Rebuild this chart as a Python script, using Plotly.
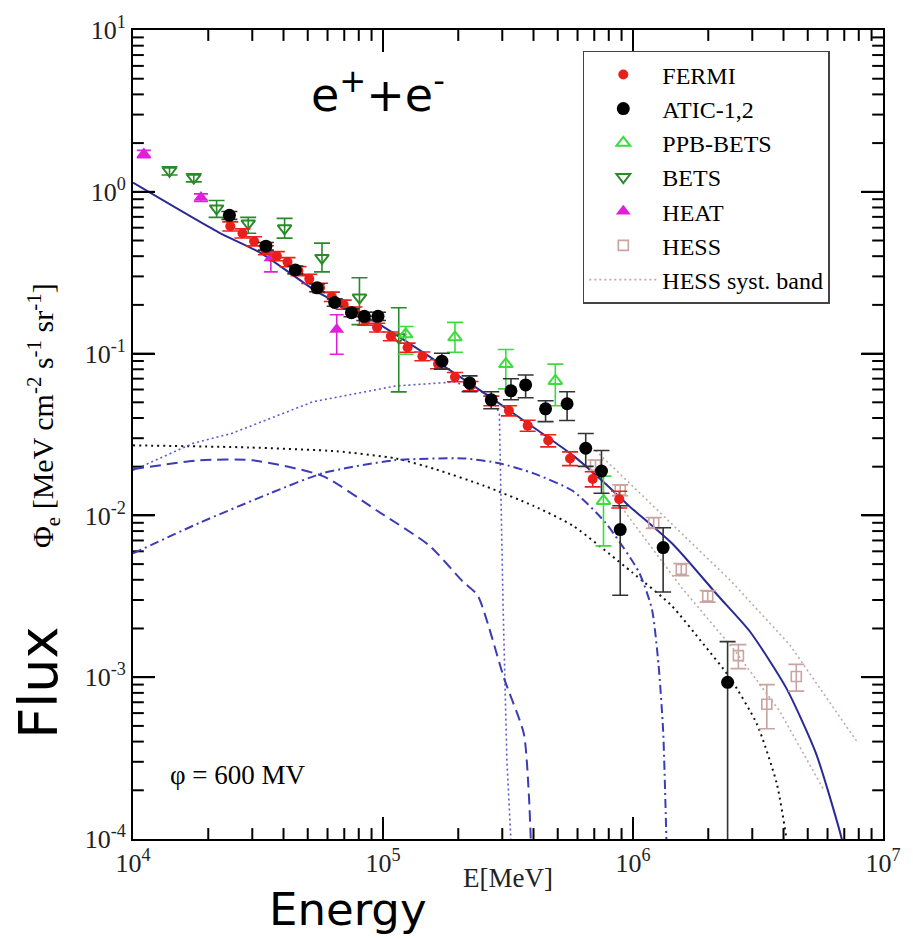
import plotly.graph_objects as go

# ---------------- data ----------------
fermi_E = [2.45e4, 2.74e4, 3.05e4, 3.40e4, 3.76e4, 4.15e4, 4.59e4, 5.07e4, 5.60e4, 6.24e4,
           6.96e4, 7.69e4, 8.49e4, 9.47e4, 1.075e5, 1.254e5, 1.437e5, 1.66e5, 1.94e5, 2.24e5,
           2.71e5, 3.19e5, 3.79e5, 4.58e5, 5.60e5, 6.90e5, 8.81e5]
fermi_F = [0.612, 0.554, 0.495, 0.436, 0.401, 0.368, 0.324, 0.290, 0.255, 0.225,
           0.201, 0.182, 0.160, 0.145, 0.128, 0.109, 0.0964, 0.0861, 0.0717, 0.0631,
           0.0511, 0.0444, 0.0359, 0.0290, 0.0225, 0.0168, 0.0126]
fermi_err = [0.04, 0.036, 0.032, 0.028, 0.026, 0.024, 0.021, 0.019, 0.017, 0.015,
             0.013, 0.012, 0.010, 0.009, 0.008, 0.007, 0.006, 0.0055, 0.0047, 0.0042,
             0.0035, 0.0032, 0.0028, 0.0025, 0.0022, 0.0018, 0.0015]

atic_E = [2.43e4, 3.40e4, 4.46e4, 5.45e4, 6.41e4, 7.48e4, 8.42e4, 9.55e4, 1.72e5, 2.22e5,
          2.71e5, 3.25e5, 3.72e5, 4.47e5, 5.45e5, 6.47e5, 7.48e5, 8.89e5, 1.32e6, 2.39e6]
atic_F = [0.715, 0.461, 0.329, 0.255, 0.207, 0.179, 0.170, 0.170, 0.0898, 0.0659,
          0.0518, 0.0589, 0.0640, 0.0456, 0.0490, 0.0260, 0.0188, 0.00817, 0.00633, 0.00093]
atic_plus = [0.04, 0.025, 0.018, 0.014, 0.011, 0.010, 0.010, 0.010, 0.0107, 0.0069,
             0.0063, 0.011, 0.0098, 0.0055, 0.0091, 0.0061, 0.0064, 0.00329, 0.00206, 0.00073]
atic_minus = [0.04, 0.025, 0.018, 0.014, 0.011, 0.010, 0.010, 0.010, 0.0096, 0.0078,
              0.0062, 0.007, 0.0107, 0.0076, 0.0104, 0.0059, 0.0051, 0.00496, 0.00297, 0.00088]

ppb_E = [1.232e5, 1.94e5, 3.10e5, 4.89e5, 7.62e5]
ppb_F = [0.1315, 0.126, 0.0861, 0.0678, 0.01228]
ppb_plus = [0.0155, 0.030, 0.020, 0.0183, 0.0052]
ppb_minus = [0.0324, 0.024, 0.0256, 0.0202, 0.0058]

bets_E = [1.40e4, 1.75e4, 2.16e4, 2.89e4, 4.04e4, 5.70e4, 8.05e4, 1.156e5]
bets_F = [1.349, 1.222, 0.789, 0.638, 0.595, 0.390, 0.222, 0.126]
bets_plus = [0.08, 0.07, 0.094, 0.057, 0.09, 0.092, 0.072, 0.066]
bets_minus = [0.08, 0.07, 0.094, 0.084, 0.078, 0.070, 0.071, 0.068]

heat_E = [1.105e4, 1.87e4, 3.56e4, 6.53e4]
heat_F = [1.714, 0.921, 0.390, 0.141]
heat_plus = [0.09, 0.05, 0.028, 0.033]
heat_minus = [0.09, 0.05, 0.07, 0.042]

hess_E = [7.08e5, 8.89e5, 1.21e6, 1.56e6, 1.99e6, 2.64e6, 3.43e6, 4.50e6]
hess_F = [0.0204, 0.01435, 0.00901, 0.00464, 0.00317, 0.00136, 0.00068, 0.00101]
hess_plus = [0.0016, 0.0011, 0.0007, 0.0004, 0.00026, 0.00023, 0.00022, 0.00019]
hess_minus = [0.0016, 0.0011, 0.0007, 0.0004, 0.00026, 0.00023, 0.0002, 0.00019]

band_hi_E = [7.08e5, 1.42e6, 2.45e6, 4.23e6, 7.83e6]
band_hi_F = [0.0252, 0.00901, 0.00397, 0.00159, 0.000404]
band_lo_E = [8.27e5, 1.56e6, 2.57e6, 3.86e6, 5.81e6]
band_lo_F = [0.01337, 0.00360, 0.00144, 0.000617, 0.000200]

# model curves
total_E = [1e4, 2.20e4, 3.25e4, 5.45e4, 9.38e4, 2.18e5, 3.34e5, 5.75e5, 7.55e5, 9.64e5,
           1.46e6, 2.18e6, 2.94e6, 4.11e6, 5.40e6, 6.84e6, 7.3e6]
total_F = [1.14, 0.562, 0.418, 0.241, 0.156, 0.0668, 0.0425, 0.0235, 0.0163, 0.01145,
           0.00652, 0.00321, 0.00191, 0.000853, 0.000337, 0.0001, 0.00006]

bdot_E = [1e4, 1.74e4, 2.48e4, 5.25e4, 1.125e5, 1.94e5, 2.71e5, 2.92e5, 3.02e5, 3.13e5, 3.27e5]
bdot_F = [0.0190, 0.0279, 0.0321, 0.0504, 0.0631, 0.0668, 0.0548, 0.0425, 0.00291, 0.000305, 0.00008]

dash_E = [1e4, 1.85e4, 3.02e4, 5.75e4, 9.38e4, 1.53e5, 2.10e5, 2.39e5, 3.05e5, 3.66e5, 3.83e5, 3.90e5, 3.93e5]
dash_F = [0.0193, 0.0219, 0.0219, 0.0175, 0.0108, 0.00652, 0.00386, 0.00321, 0.000984, 0.000446,
          0.000191, 0.0001, 0.00007]

dd_E = [1e4, 1.85e4, 3.56e4, 5.75e4, 1.105e5, 2.10e5, 2.92e5, 4.00e5, 5.75e5, 7.76e5,
        1.057e6, 1.19e6, 1.265e6, 1.32e6, 1.36e6, 1.37e6]
dd_F = [0.00582, 0.00901, 0.01375, 0.01824, 0.0219, 0.0225, 0.0210, 0.0182, 0.01416, 0.00901,
        0.00445, 0.00264, 0.00120, 0.000466, 0.0001, 0.00006]

kdot_E = [1e4, 2.89e4, 6.53e4, 1.125e5, 1.62e5, 2.55e5, 4.00e5, 5.75e5, 9.91e5, 1.42e6,
          1.92e6, 2.45e6, 3.13e6, 3.76e6, 4.11e6, 4.2e6]
kdot_F = [0.0271, 0.0263, 0.0249, 0.0225, 0.0193, 0.0152, 0.01145, 0.00863, 0.00445, 0.00279,
          0.00159, 0.000984, 0.000514, 0.000220, 0.0001, 0.00007]

x_ticks = [1e4, 1e5, 1e6, 1e7]
x_ticktext = ["10<sup>4</sup>", "10<sup>5</sup>", "10<sup>6</sup>", "10<sup>7</sup>"]
y_ticks = [1e-4, 1e-3, 1e-2, 1e-1, 1e0, 1e1]
y_ticktext = ["10<sup>-4</sup>", "10<sup>-3</sup>", "10<sup>-2</sup>", "10<sup>-1</sup>",
              "10<sup>0</sup>", "10<sup>1</sup>"]

# ---------------- figure ----------------
SERIF = "Liberation Serif"
SANS = "DejaVu Sans"
W, H = 913, 939
L, R, T, B = 133, 18, 23, 100
pw, ph = W - L - R, H - T - B
X_LO, X_HI, Y_LO, Y_HI = 4, 7, -4, 1
px_per_dec_x = pw / (X_HI - X_LO)
px_per_dec_y = ph / (Y_HI - Y_LO)

def px(xp):
    return (xp - L) / pw

def py(yp):
    return 1 - (yp - T) / ph

fig = go.Figure()

# ---- tick marks on all four sides (axis decoration, drawn as line segments) ----
major_x_inner = [1e5, 1e6]
major_y_inner = [1e-3, 1e-2, 1e-1, 1e0]
minor_x = [m * 10 ** k for k in range(4, 7) for m in range(2, 10)]
minor_y = [m * 10.0 ** k for k in range(-4, 1) for m in range(2, 10)]

def tick_segments(xvals, yvals, length):
    fy = 10 ** (length / px_per_dec_y)
    fx = 10 ** (length / px_per_dec_x)
    ybot, ytop = 10.0 ** Y_LO, 10.0 ** Y_HI
    xl, xr = 10.0 ** X_LO, 10.0 ** X_HI
    xs, ys = [], []
    for v in xvals:
        xs += [v, v, None, v, v, None]
        ys += [ybot, ybot * fy, None, ytop, ytop / fy, None]
    for v in yvals:
        xs += [xl, xl * fx, None, xr, xr / fx, None]
        ys += [v, v, None, v, v, None]
    return xs, ys

for xv, yv, ln, lw in ((major_x_inner, major_y_inner, 22, 2.0), (minor_x, minor_y, 11, 2.0)):
    tx, ty = tick_segments(xv, yv, ln)
    fig.add_trace(go.Scatter(x=tx, y=ty, mode="lines", showlegend=False, hoverinfo="skip",
                             connectgaps=False, line=dict(color="black", width=lw)))

def curve(x, y, color, dash, width=2, shape="spline"):
    fig.add_trace(go.Scatter(x=x, y=y, mode="lines", showlegend=False, hoverinfo="skip",
                             line=dict(color=color, dash=dash, width=width, shape=shape,
                                       smoothing=0.6)))

curve(kdot_E, kdot_F, "#111111", "2px,4px", 2)
curve(bdot_E, bdot_F, "#5a5ad0", "2px,3px", 1.6, "linear")
curve(dash_E, dash_F, "#3c3cb8", "11px,6px", 2)
curve(dd_E, dd_F, "#3c3cb8", "9px,4px,2px,4px", 2)
curve(total_E, total_F, "#2a2a96", "solid", 2)

def errs(plus, minus, color, w=6, th=1.6):
    return dict(type="data", symmetric=False, array=plus, arrayminus=minus,
                color=color, thickness=th, width=w)

fig.add_trace(go.Scatter(x=band_hi_E, y=band_hi_F, mode="lines", name="HESS syst. band",
                         legendrank=7, line=dict(color="#c4a8a4", dash="2px,3px", width=1.6)))
fig.add_trace(go.Scatter(x=band_lo_E, y=band_lo_F, mode="lines", showlegend=False,
                         line=dict(color="#c4a8a4", dash="2px,3px", width=1.6)))

fig.add_trace(go.Scatter(x=hess_E, y=hess_F, mode="markers", name="HESS", legendrank=6,
                         marker=dict(symbol="square-open", size=10, color="#c9a4a0",
                                     line=dict(width=1.6)),
                         error_y=errs(hess_plus, hess_minus, "#c9a4a0", 8)))
fig.add_trace(go.Scatter(x=heat_E, y=heat_F, mode="markers", name="HEAT", legendrank=5,
                         marker=dict(symbol="triangle-up", size=13, color="#e020d8"),
                         error_y=errs(heat_plus, heat_minus, "#e020d8", 7)))
fig.add_trace(go.Scatter(x=bets_E, y=bets_F, mode="markers", name="BETS", legendrank=4,
                         marker=dict(symbol="triangle-down-open", size=12, color="#2a8a2a",
                                     line=dict(width=2)),
                         error_y=errs(bets_plus, bets_minus, "#2a8a2a", 8)))
fig.add_trace(go.Scatter(x=ppb_E, y=ppb_F, mode="markers", name="PPB-BETS", legendrank=3,
                         marker=dict(symbol="triangle-up-open", size=12, color="#3cdc3c",
                                     line=dict(width=2)),
                         error_y=errs(ppb_plus, ppb_minus, "#3cdc3c", 8)))
fig.add_trace(go.Scatter(x=fermi_E, y=fermi_F, mode="markers", name="FERMI", legendrank=1,
                         marker=dict(symbol="circle", size=10, color="#e8201c"),
                         error_y=errs(fermi_err, fermi_err, "#e8201c", 8)))
fig.add_trace(go.Scatter(x=atic_E, y=atic_F, mode="markers", name="ATIC-1,2", legendrank=2,
                         marker=dict(symbol="circle", size=13, color="#000000"),
                         error_y=errs(atic_plus, atic_minus, "#333333", 8)))

fig.update_xaxes(type="log", range=[X_LO, X_HI], tickmode="array", tickvals=x_ticks,
                 ticktext=x_ticktext, ticks="inside", ticklen=22, tickwidth=2,
                 tickcolor="black", showline=True, linecolor="black", linewidth=2,
                 mirror="allticks", showgrid=False, zeroline=False,
                 tickfont=dict(family=SERIF, size=26, color="#222"))
fig.update_yaxes(type="log", range=[Y_LO, Y_HI], tickmode="array", tickvals=y_ticks,
                 ticktext=y_ticktext, ticks="inside", ticklen=22, tickwidth=2,
                 tickcolor="black", showline=True, linecolor="black", linewidth=2,
                 mirror="allticks", showgrid=False, zeroline=False,
                 tickfont=dict(family=SERIF, size=26, color="#222"))

annotations = [
    dict(text="e<sup>+</sup>+e<sup>-</sup>", x=px(382), y=py(86),
         font=dict(family=SANS, size=46, color="black")),
    dict(text="\u03c6 = 600 MV", x=px(240), y=py(774),
         font=dict(family=SERIF, size=27, color="black")),
    dict(text="\u03a6<sub>e</sub> [MeV cm<sup>-2</sup> s<sup>-1</sup> sr<sup>-1</sup>]",
         x=px(42), y=py(412), textangle=-90,
         font=dict(family=SERIF, size=30, color="black")),
    dict(text="Flux", x=px(37), y=py(682), textangle=-90,
         font=dict(family=SANS, size=54, color="black")),
    dict(text="Energy", x=px(351), y=py(910),
         font=dict(family=SANS, size=45, color="black")),
    dict(text="E[MeV]", x=px(514), y=py(878),
         font=dict(family=SERIF, size=27, color="#222")),
]
for a in annotations:
    a.update(xref="paper", yref="paper", showarrow=False, xanchor="center", yanchor="middle")

fig.update_layout(
    width=W, height=H,
    margin=dict(l=L, r=R, t=T, b=B),
    paper_bgcolor="white", plot_bgcolor="white",
    annotations=annotations,
    legend=dict(x=px(590), y=py(44), xanchor="left", yanchor="top",
                bgcolor="white", bordercolor="#444", borderwidth=1.5,
                font=dict(family=SERIF, size=24, color="black"),
                itemwidth=68, tracegroupgap=0),
    showlegend=True,
)

fig.write_html("out.html")
